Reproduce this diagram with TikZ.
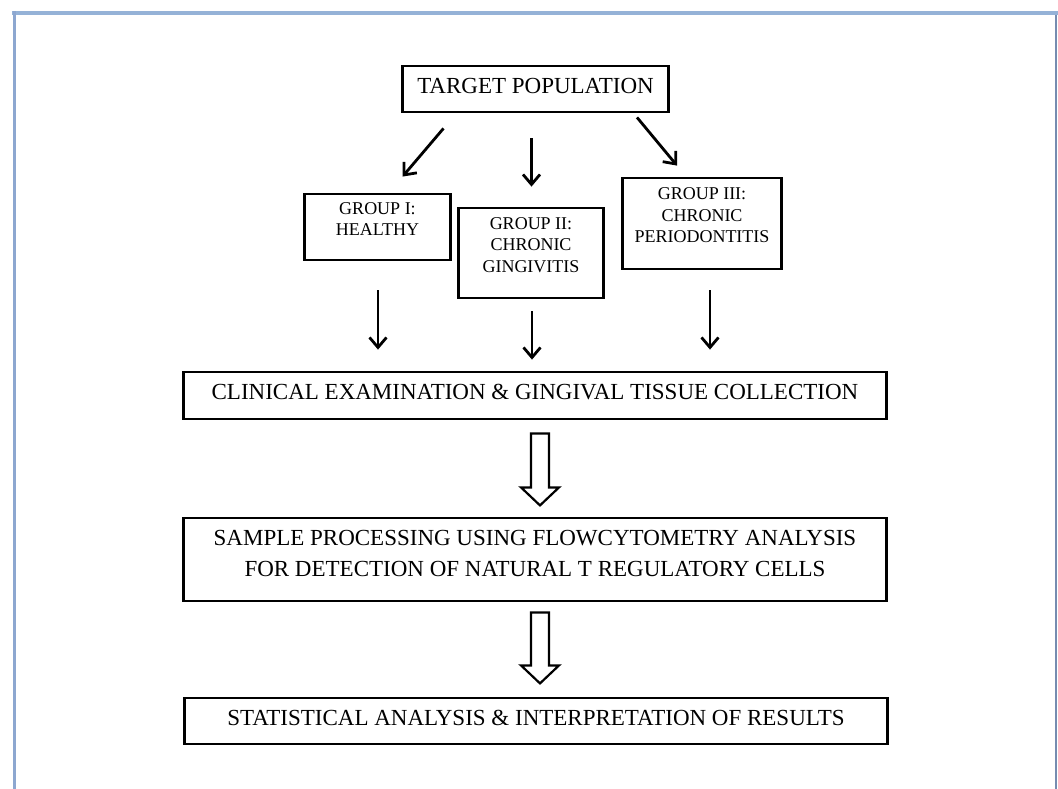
\documentclass[tikz,border=0pt]{standalone}
\usepackage{fontspec}
\setmainfont{Liberation Serif}
\usetikzlibrary{arrows.meta, calc}
\definecolor{frametop}{RGB}{149,178,215}
\definecolor{frameleft}{RGB}{141,167,208}
\definecolor{frameright}{RGB}{118,140,176}

\begin{document}
\begin{tikzpicture}[x=1pt, y=-1pt,
        box/.style={draw, line width=2.8pt, inner sep=0pt, align=center, font=\fontsize{23}{31}\selectfont, text depth=7pt},
        groupbox/.style={draw, line width=2.8pt, inner sep=0pt, align=center, font=\fontsize{18}{21.5}\selectfont, text depth=16pt},
        thinarrow/.style={line width=2.8pt, -{Straight Barb[length=10pt, width=17pt]}},
        blockarrow/.style={draw, line width=2.2pt, fill=white, line join=miter}]
        \useasboundingbox (0,0) rectangle (1058,789);

        % frame
        \draw[line width=4pt, frametop] (12,13) -- (1058,13);
        \draw[line width=3pt, frameleft] (14.5,11) -- (14.5,789);
        \draw[line width=1.5pt, frameright] (1056,15) -- (1056,789);

        % boxes
        \node[box, minimum width=266, minimum height=46] (target) at (535.5, 89) {TARGET POPULATION};
        \node[groupbox, minimum width=146, minimum height=66] (g1) at (377.5, 227) {GROUP I:\\HEALTHY};
        \node[groupbox, minimum width=145, minimum height=90] (g2) at (531, 253) {GROUP II:\\CHRONIC\\GINGIVITIS};
        \node[groupbox, minimum width=159, minimum height=91] (g3) at (702, 223.5) {GROUP III:\\CHRONIC\\PERIODONTITIS};
        \node[box, minimum width=703, minimum height=47] (clinical) at (535, 395.5) {CLINICAL EXAMINATION \& GINGIVAL TISSUE COLLECTION};
        \node[box, minimum width=703, minimum height=83, text depth=13pt] (sample) at (535, 559.5) {SAMPLE PROCESSING USING FLOWCYTOMETRY ANALYSIS\\FOR DETECTION OF NATURAL T REGULATORY CELLS};
        \node[box, minimum width=703, minimum height=46] (stats) at (536, 721) {STATISTICAL ANALYSIS \& INTERPRETATION OF RESULTS};

        % arrows to the groups
        \draw[thinarrow] ($(target.south)+(-92,15)$) -- ($(g1.north)+(25,-16)$);
        \draw[thinarrow] ($(target.south)+(-4,25)$) -- ($(g2.north)+(0.5,-20)$);
        \draw[thinarrow] ($(target.south)+(101.5,4)$) -- ($(g3.north)+(-25,-11)$);

        % arrows to the examination
        \draw[thinarrow] ($(g1.south)+(0.5,29)$) -- ($(g1.south |- clinical.north)+(0.5,-21)$);
        \draw[thinarrow] ($(g2.south)+(1,12)$) -- ($(g2.south |- clinical.north)+(1,-11)$);
        \draw[thinarrow] ($(g3.south)+(8,20)$) -- ($(g3.south |- clinical.north)+(8,-21)$);

        % hollow arrows
        \draw[blockarrow] ($(clinical.south)+(-4,13)$) -- ++(18,0) -- ++(0,54) -- ++(10,0) -- ++(-19,18) -- ++(-19,-18) -- ++(10,0) -- cycle;
        \draw[blockarrow] ($(sample.south)+(-4,10)$) -- ++(18,0) -- ++(0,53) -- ++(10,0) -- ++(-19,18) -- ++(-19,-18) -- ++(10,0) -- cycle;
    \end{tikzpicture}
\end{document}
